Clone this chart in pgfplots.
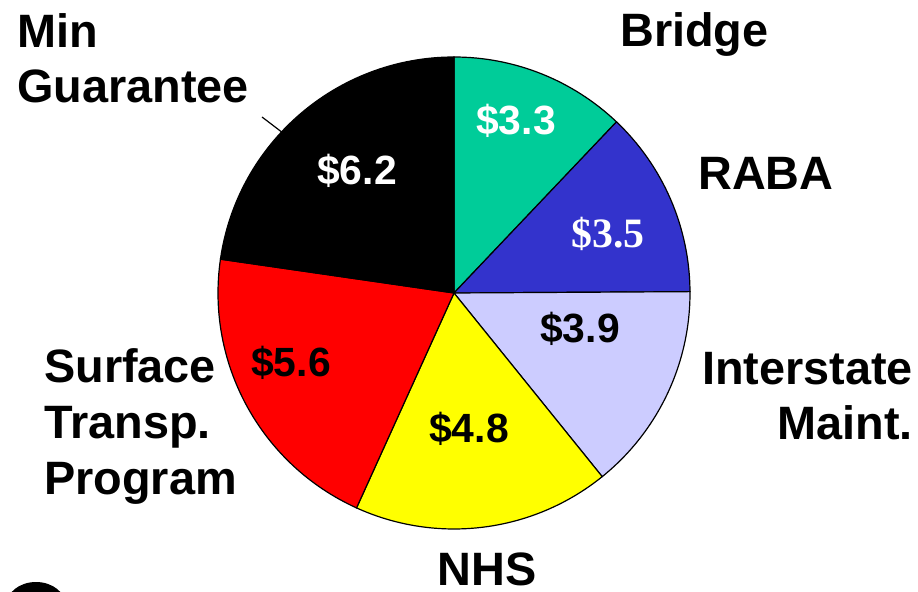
\documentclass[border=0pt]{standalone}
\usepackage{pgfplots}
\pgfplotsset{compat=1.18}
\usepackage{fontspec}
\setmainfont{Liberation Sans}
\newfontfamily\seriffont{Liberation Serif}
\definecolor{cBridge}{RGB}{0,204,153}
\definecolor{cRaba}{RGB}{51,51,204}
\definecolor{cInter}{RGB}{204,204,255}
\definecolor{cNhs}{RGB}{255,255,0}
\definecolor{cSurf}{RGB}{255,0,0}
\definecolor{cMin}{RGB}{0,0,0}
\begin{document}
\begin{tikzpicture}
\path[use as bounding box] (0,0) rectangle (918bp,592bp);
\begin{axis}[width=918bp,height=592bp,scale only axis,
  xmin=0,xmax=918,ymin=0,ymax=592,hide axis,clip=false]
\gdef\cum{0}
\foreach \v/\c in {3.3/cBridge,3.5/cRaba,3.9/cInter,4.8/cNhs,5.6/cSurf,6.2/cMin}{
  \pgfmathsetmacro\sa{90-\cum/27.3*360}
  \pgfmathsetmacro\ea{90-(\cum+\v)/27.3*360}
  \pgfmathsetmacro\nc{\cum+\v}
  \xdef\cum{\nc}
  \edef\temp{\noexpand\filldraw[fill=\c,draw=black,line width=1.2pt] (axis cs:454,299) -- ++(\sa:236bp) arc[start angle=\sa,end angle=\ea,radius=236bp] -- cycle;}
  \temp
}
\draw[black,line width=1.2pt] (axis cs:262,475) -- (axis cs:283,459);
% partial logo at bottom left
\fill[black] (axis cs:36,-14) ellipse[x radius=30bp,y radius=24bp];
\fill[white] (axis cs:40,-18) ellipse[x radius=22bp,y radius=14bp];
% category labels
\tikzset{lab/.style={inner sep=0pt,font=\fontsize{47}{55}\bfseries\selectfont}}
\node[lab,anchor=base west] at (axis cs:17,544) {Min};
\node[lab,anchor=base west] at (axis cs:17,489) {Guarantee};
\node[lab,anchor=base west] at (axis cs:620,545) {Bridge};
\node[lab,anchor=base west] at (axis cs:698,402) {RABA};
\node[lab,anchor=base east] at (axis cs:913,207) {Interstate};
\node[lab,anchor=base east] at (axis cs:913,152) {Maint.};
\node[lab,anchor=base west] at (axis cs:44,209) {Surface};
\node[lab,anchor=base west] at (axis cs:44,153) {Transp.};
\node[lab,anchor=base west] at (axis cs:44,97) {Program};
\node[lab,anchor=base] at (axis cs:487,7) {NHS};
% value labels
\tikzset{val/.style={inner sep=0pt,anchor=base,font=\fontsize{41}{48}\bfseries\selectfont}}
\node[val,white] at (axis cs:516,457) {\$3.3};
\node[inner sep=0pt,anchor=base,white,font=\fontsize{42}{50}\seriffont\bfseries\selectfont] at (axis cs:608,344) {\$3.5};
\node[val] at (axis cs:580,249) {\$3.9};
\node[val] at (axis cs:469,149) {\$4.8};
\node[val] at (axis cs:291,215) {\$5.6};
\node[val,white] at (axis cs:357,407) {\$6.2};
\end{axis}
\end{tikzpicture}
\end{document}
